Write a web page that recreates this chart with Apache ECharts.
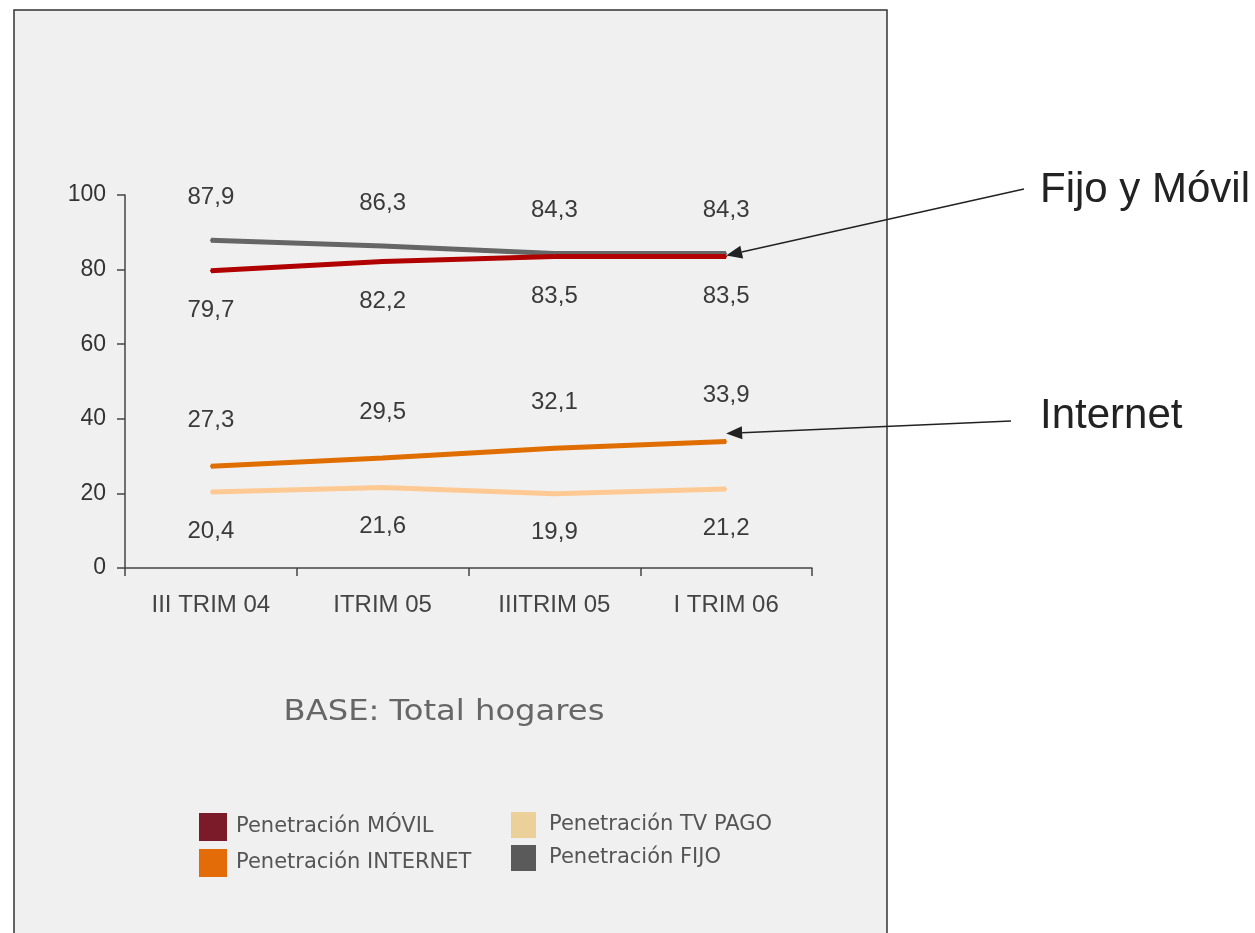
<!DOCTYPE html>
<html><head><meta charset="utf-8">
<script src="https://cdn.jsdelivr.net/npm/echarts@6/dist/echarts.min.js"></script>
<style>html,body{margin:0;padding:0;background:#fff}#c{width:1255px;height:933px}</style>
</head><body><div id="c"></div>
<script>
const categories = ['III TRIM 04', 'ITRIM 05', 'IIITRIM 05', 'I TRIM 06'];
const fijo = [87.9, 86.3, 84.3, 84.3];
const movil = [79.7, 82.2, 83.5, 83.5];
const internet = [27.3, 29.5, 32.1, 33.9];
const tvPago = [20.4, 21.6, 19.9, 21.2];
const yTicks = [0, 20, 40, 60, 80, 100];

const fmt = p => p.value.toFixed(1).replace('.', ',');
const lblFont = {fontFamily: 'Liberation Sans', fontSize: 24, color: '#3a3a3a', formatter: fmt};

const chart = echarts.init(document.getElementById('c'), null, {renderer: 'canvas'});
function lineSeries(name, data, color, pos, dist) {
  return {name: name, type: 'line', data: data, symbol: 'circle', symbolSize: 2, showSymbol: true,
    color: color, itemStyle: {color: color}, lineStyle: {width: 5, color: color},
    label: Object.assign({show: true, position: pos, distance: dist}, lblFont)};
}
chart.setOption({
  backgroundColor: '#ffffff',
  animation: false,
  grid: {left: 125, right: 443, top: 195, bottom: 365},
  xAxis: {
    type: 'category', data: categories, boundaryGap: true,
    axisLine: {lineStyle: {color: '#444', width: 1.5}},
    axisTick: {show: true, length: 8, lineStyle: {color: '#444', width: 1.5}},
    axisLabel: {margin: 25, fontFamily: 'Liberation Sans', fontSize: 24, color: '#444'}
  },
  yAxis: {
    type: 'value', min: yTicks[0], max: yTicks[yTicks.length - 1], interval: 20,
    splitLine: {show: false},
    axisLine: {show: true, lineStyle: {color: '#444', width: 1.5}},
    axisTick: {show: true, length: 8, lineStyle: {color: '#444', width: 1.5}},
    axisLabel: {margin: 19, fontFamily: 'Liberation Sans', fontSize: 23, color: '#333'}
  },
  legend: [
    {left: 199, top: 813, padding: 0, orient: 'vertical', itemWidth: 28, itemHeight: 28, itemGap: 8, icon: 'rect',
      textStyle: {fontFamily: 'DejaVu Sans', fontSize: 21, color: '#555', padding: [0, 0, 0, 4]},
      data: [{name: 'Penetración MÓVIL', itemStyle: {color: '#7b1a28'}},
             {name: 'Penetración INTERNET', itemStyle: {color: '#e36c09'}}]},
    {left: 511, top: 812, padding: 0, orient: 'vertical', itemWidth: 25, itemHeight: 26, itemGap: 7, icon: 'rect',
      textStyle: {fontFamily: 'DejaVu Sans', fontSize: 21, color: '#555', padding: [0, 0, 0, 8]},
      data: [{name: 'Penetración TV PAGO', itemStyle: {color: '#ecd09a'}},
             {name: 'Penetración FIJO', itemStyle: {color: '#5a5a5a'}}]}
  ],
  series: [
    lineSeries('Penetración FIJO', fijo, '#666666', 'top', 30),
    lineSeries('Penetración MÓVIL', movil, '#b00000', 'bottom', 27),
    lineSeries('Penetración INTERNET', internet, '#e06d00', 'top', 33),
    lineSeries('Penetración TV PAGO', tvPago, '#ffc993', 'bottom', 26)
  ]
});

function arrow(x1, y1, x2, y2) {
  const ang = Math.atan2(y2 - y1, x2 - x1);
  const L = 16, W = 6.5;
  const bx = x2 - L * Math.cos(ang), by = y2 - L * Math.sin(ang);
  const px = -Math.sin(ang) * W, py = Math.cos(ang) * W;
  return [
    {type: 'line', shape: {x1: x1, y1: y1, x2: bx, y2: by}, style: {stroke: '#222', lineWidth: 1.5}, z: 100},
    {type: 'polygon', shape: {points: [[x2, y2], [bx + px, by + py], [bx - px, by - py]]}, style: {fill: '#222'}, z: 100}
  ];
}
const last = categories.length - 1;
const pFM = chart.convertToPixel({gridIndex: 0}, [last, movil[last]]);
const pIn = chart.convertToPixel({gridIndex: 0}, [last, internet[last]]);

chart.setOption({
  graphic: [
    {type: 'rect', shape: {x: 14, y: 10, width: 873, height: 930}, style: {fill: '#f0f0f0', stroke: '#333', lineWidth: 1.5}, z: -10, silent: true},
    {type: 'text', x: 444, y: 713, scaleX: 1.15, style: {text: 'BASE: Total hogares', font: '28px "DejaVu Sans"', fill: '#666', align: 'center', verticalAlign: 'middle'}},
    {type: 'text', x: 1040, y: 190, style: {text: 'Fijo y Móvil', font: '42px "Liberation Sans"', fill: '#222', align: 'left', verticalAlign: 'middle'}},
    {type: 'text', x: 1040, y: 416, style: {text: 'Internet', font: '42px "Liberation Sans"', fill: '#222', align: 'left', verticalAlign: 'middle'}}
  ].concat(arrow(1024, 189, pFM[0], pFM[1] - 1)).concat(arrow(1011, 421, pIn[0], pIn[1] - 8))
});
</script></body></html>
